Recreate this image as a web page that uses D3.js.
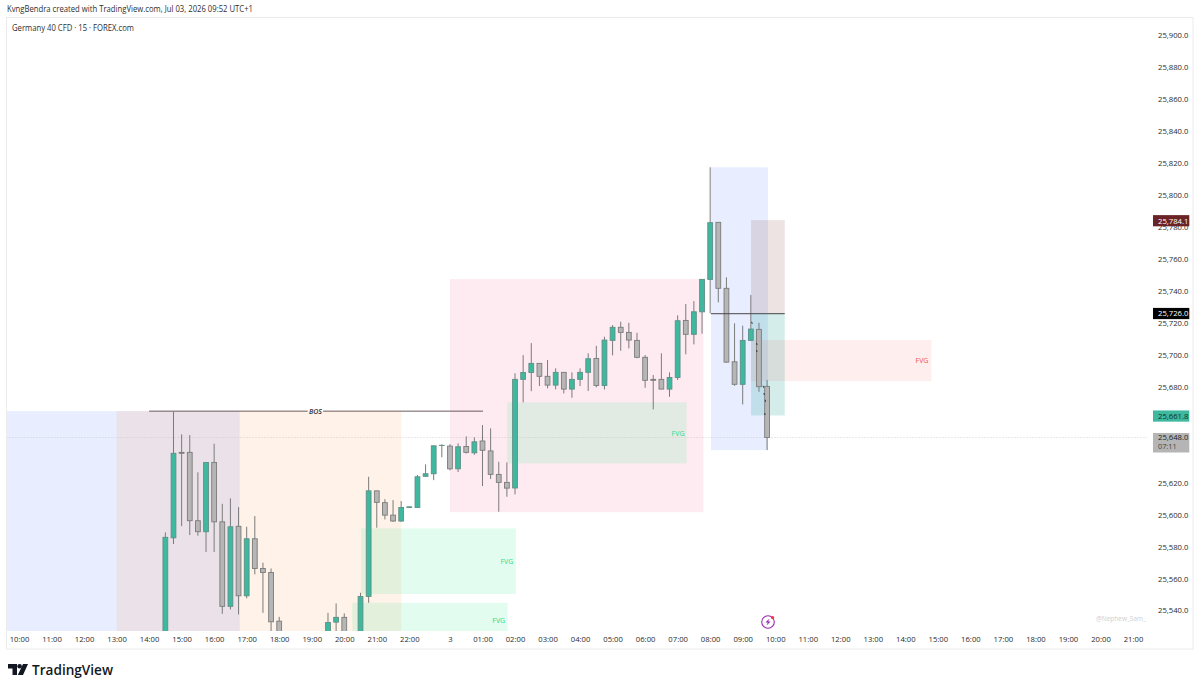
<!DOCTYPE html>
<html>
<head>
<meta charset="utf-8">
<style>
  html, body { margin: 0; padding: 0; background: #fff; }
  text { font-family: "Open Sans", Roboto, sans-serif; }
</style>
</head>
<body>
<svg id="chart" width="1200" height="689"></svg>
<script src="https://d3js.org/d3.v7.min.js"></script>
<script>
// bars are numbered from the 10:00 label, 4 per hour. 33-37 and 41 sit below the visible range
var barIndex = [18,19,20,21,22,23,24,25,26,27,28,29,30,31,32,38,39,40,42,43,44,45,46,47,48,49,50,51,52,53,54,55,56,57,58,59,60,61,62,63,64,65,66,67,68,69,70,71,72,73,74,75,76,77,78,79,80,81,82,83,84,85,86,87,88,89,90,91,92];
var opens = [25515,25585.2,25638.7,25638.7,25595.9,25589,25632.4,25595.2,25542.3,25592.4,25548.9,25584.6,25566,25563.5,25533,25515,25532.4,25535.4,25515,25548.5,25614.6,25607.2,25599.4,25595.7,25604.2,25604.2,25623.7,25625.3,25643,25642.6,25628.4,25642.4,25638.4,25645.8,25639.6,25624.9,25619.9,25616.4,25684.4,25688.7,25694.4,25686.3,25680.8,25688.8,25678.3,25684.4,25688.8,25697.5,25680.6,25708.8,25717,25713.8,25708.8,25698.2,25684.4,25684.4,25678.3,25685.6,25721.3,25712.6,25726.7,25747,25782.7,25741.4,25695.4,25681.3,25708.8,25715.7,25680];
var highs = [25588.6,25664.1,25650,25649.5,25626.2,25632.4,25644.1,25606.5,25609.9,25604.4,25592.1,25598.8,25569.6,25566,25535.7,25538.2,25544.1,25537.9,25550.8,25623.4,25614.6,25609.4,25608.8,25608.2,25604.6,25624.5,25631.2,25642.8,25643.7,25643.9,25644.3,25648.7,25648.1,25655.8,25653.7,25632.8,25632.4,25688.2,25699.6,25707.1,25694.4,25696.5,25691.3,25688.8,25688.8,25691.3,25700.7,25705.4,25711.1,25718.4,25720.5,25719.8,25713.6,25699.6,25687.1,25700.7,25688.8,25724.5,25731.6,25733.4,25747,25817.2,25782.7,25748.3,25719.5,25718,25737.2,25719.8,25684];
var lows = [25510,25581.3,25592.5,25586.9,25586.5,25576.3,25576.3,25537.6,25540.4,25537.2,25547.3,25562.3,25538.2,25520,25510,25510,25520,25510,25510,25544.5,25591.5,25596.7,25595.2,25595.2,25604.2,25604.2,25623.4,25621.3,25635.6,25627.4,25626.4,25638,25637.2,25617.6,25622,25601.5,25610.9,25612.4,25670,25677,25680.2,25678.8,25678.1,25675.6,25672.9,25680.2,25677.1,25679.4,25678.1,25699.4,25702.3,25703.8,25697.6,25679.1,25665.6,25678.3,25673.5,25684,25700.1,25706.3,25713,25725.7,25732.6,25694.8,25680.4,25668.7,25708.8,25676.6,25640.1];
var closes = [25585.5,25638.1,25638.1,25595.9,25589,25632.4,25595.2,25542.3,25592.1,25548.9,25584.6,25566,25563.5,25532.6,25515,25532.2,25535.4,25515,25548.5,25614.6,25607.4,25599.4,25595.7,25604.2,25604.6,25623.4,25625.3,25642.8,25643.1,25628.4,25642.2,25638.7,25645.3,25640,25624.9,25619.9,25616.3,25684.4,25688.7,25694.4,25686.3,25680.8,25688.8,25678.3,25684.4,25688.8,25697.3,25680.6,25709,25717,25713.8,25709,25698.2,25683.8,25683.8,25678.3,25685.6,25721.1,25712.6,25726.7,25747,25782.5,25741.4,25695.2,25681.3,25708.8,25715.9,25679.8,25648];

var priceTicks = [25900,25880,25860,25840,25820,25800,25780,25760,25740,25720,25700,25680,25620,25600,25580,25560,25540];
var timeTicks = [0,4,8,12,16,20,24,28,32,36,40,44,48,53,57,61,65,69,73,77,81,85,89,93,97,101,105,109,113,117,121,125,129,133,137];
var timeLabels = ["10:00","11:00","12:00","13:00","14:00","15:00","16:00","17:00","18:00","19:00","20:00","21:00","22:00","3","01:00","02:00","03:00","04:00","05:00","06:00","07:00","08:00","09:00","10:00","11:00","12:00","13:00","14:00","15:00","16:00","17:00","18:00","19:00","20:00","21:00"];

// drawn boxes: bar start, bar end, top price, bottom price
var boxStart  = [-1.54, 12, 53, 42.06, 40.99, 60.05, 85.1, 90.03, 90.03, 90];
var boxEnd    = [27.15, 47, 84.15, 61.1, 60.1, 82.1, 92.1, 94.17, 94.17, 112.2];
var boxTop    = [25664.5,25664.5,25747.2,25591.1,25544.5,25670,25817.2,25784.1,25726,25709];
var boxBottom = [25510,25510,25601.3,25550,25510,25631.8,25640.1,25726,25661.8,25683.3];
var boxFill   = ["#2962ff","#ff6d00","#e91e63","#00e676","#00e676","#00e676","#2962ff","#7a3a30","#26a69a","#f44336"];
var boxAlpha  = [0.11,0.09,0.09,0.11,0.11,0.11,0.11,0.14,0.2,0.09];

var fvgBar = [81.05,60,59,111.05];
var fvgPrice = [25650.8,25570.6,25533.7,25696.5];
var fvgColor = ["#2bdc8c","#2bdc8c","#2bdc8c","#ef5350"];

var markBar = [90.1,90.7,90.7,91.5,91.6,91.75,91.7];
var markPrice = [25719.8,25706.5,25702.1,25679.8,25675.2,25671,25662.7];

var lastPrice = 25648;
var bosPrice = 25664.5;
var entryPrice = 25726;

var svg = d3.select("#chart");
var x = d3.scaleLinear().domain([0,137]).range([19,1133]);
var y = d3.scaleLinear().domain([25900,25540]).range([35,610]);

// frame
svg.append("rect").attr("x",6.5).attr("y",17.5).attr("width",1186.5).attr("height",631.5)
  .attr("fill","#fff").attr("stroke","#ececec").attr("stroke-width",1);

svg.append("clipPath").attr("id","plot").append("rect")
  .attr("x",7).attr("y",18).attr("width",1140).attr("height",613);
var plot = svg.append("g").attr("clip-path","url(#plot)");

plot.selectAll(".box").data(boxStart).join("rect").attr("class","box")
  .attr("x",function(d){ return x(d); })
  .attr("width",function(d,i){ return x(boxEnd[i])-x(d); })
  .attr("y",function(d,i){ return y(boxTop[i]); })
  .attr("height",function(d,i){ return y(boxBottom[i])-y(boxTop[i]); })
  .attr("fill",function(d,i){ return boxFill[i]; })
  .attr("fill-opacity",function(d,i){ return boxAlpha[i]; });

// last price line
plot.append("line").attr("x1",x(-1.54)).attr("x2",1147).attr("y1",y(lastPrice)).attr("y2",y(lastPrice))
  .attr("stroke","#c9c4c4").attr("stroke-width",0.8).attr("stroke-dasharray","1 2");

// wicks and bodies
plot.selectAll(".wick").data(barIndex).join("line").attr("class","wick")
  .attr("x1",function(d){ return x(d); }).attr("x2",function(d){ return x(d); })
  .attr("y1",function(d,i){ return y(highs[i]); }).attr("y2",function(d,i){ return y(lows[i]); })
  .attr("stroke","#7b7b7b").attr("stroke-width",1);

plot.selectAll(".body").data(barIndex).join("rect").attr("class","body")
  .attr("x",function(d){ return x(d)-2.4; }).attr("width",4.8)
  .attr("y",function(d,i){ return y(Math.max(opens[i],closes[i])); })
  .attr("height",function(d,i){ return Math.abs(y(opens[i])-y(closes[i])); })
  .attr("fill",function(d,i){ return closes[i]>opens[i] ? "#3fb8a0" : "#b7b6b6"; })
  .attr("stroke",function(d,i){ return closes[i]>opens[i] ? "#5f8f86" : "#7b7b7b"; })
  .attr("stroke-width",0.9);

// BOS line with a gap for its label
plot.append("line").attr("x1",x(16)).attr("x2",x(35.5)).attr("y1",y(bosPrice)).attr("y2",y(bosPrice))
  .attr("stroke","#5a4a4c").attr("stroke-width",0.9);
plot.append("line").attr("x1",x(37.4)).attr("x2",x(57.07)).attr("y1",y(bosPrice)).attr("y2",y(bosPrice))
  .attr("stroke","#5a4a4c").attr("stroke-width",0.9);
plot.append("text").attr("x",x(36.45)).attr("y",y(bosPrice)+2.6).attr("text-anchor","middle")
  .attr("font-size",7).attr("font-style","italic").attr("font-weight",600).attr("fill","#333").text("BOS");

// entry line of the position box
plot.append("line").attr("x1",x(85.1)).attr("x2",x(94.17)).attr("y1",y(entryPrice)+0.8).attr("y2",y(entryPrice)+0.8)
  .attr("stroke","#4a4345").attr("stroke-width",1);

// little marks along the last bars
plot.selectAll(".mark").data(markBar).join("line").attr("class","mark")
  .attr("x1",function(d){ return x(d); }).attr("x2",function(d){ return x(d)+0.6; })
  .attr("y1",function(d,i){ return y(markPrice[i])-1; }).attr("y2",function(d,i){ return y(markPrice[i])+1; })
  .attr("stroke","#333").attr("stroke-width",1);

plot.selectAll(".fvg").data(fvgBar).join("text").attr("class","fvg")
  .attr("x",function(d){ return x(d); })
  .attr("y",function(d,i){ return y(fvgPrice[i])+2.5; })
  .attr("text-anchor","middle").attr("font-size",7)
  .attr("fill",function(d,i){ return fvgColor[i]; }).text("FVG");

// axes
var timeAxis = d3.axisBottom(x).tickValues(timeTicks).tickSize(0)
  .tickFormat(function(d,i){ return timeLabels[i]; });
var tg = svg.append("g").attr("transform","translate(0,631)").call(timeAxis);
tg.select(".domain").remove();
tg.selectAll("text").attr("y",6).attr("font-size",7.7).attr("font-family",'"Open Sans", Roboto, sans-serif').attr("fill","#2a2a2a");

var priceAxis = d3.axisRight(y).tickValues(priceTicks).tickSize(0)
  .tickFormat(function(d){ return d3.format(",.1f")(d); });
var pg = svg.append("g").attr("transform","translate(1158,0.5)").call(priceAxis);
pg.select(".domain").remove();
pg.selectAll("text").attr("x",0).attr("font-size",7.7).attr("font-family",'"Open Sans", Roboto, sans-serif').attr("fill","#2a2a2a");

// price tags
var tagPrice = [25784.1,25726,25661.8];
var tagFill = ["#6b2326","#000000","#3fb8a0"];
var tagText = ["#ffffff","#ffffff","#10302a"];
svg.selectAll(".tag").data(tagPrice).join("rect").attr("class","tag")
  .attr("x",1153).attr("width",36.3)
  .attr("y",function(d){ return y(d)+0.6-5.6; }).attr("height",11.2)
  .attr("fill",function(d,i){ return tagFill[i]; });
svg.selectAll(".tagt").data(tagPrice).join("text").attr("class","tagt")
  .attr("x",1158).attr("y",function(d){ return y(d)+3.4; })
  .attr("font-size",7.7).attr("fill",function(d,i){ return tagText[i]; })
  .text(function(d){ return d3.format(",.1f")(d); });

svg.append("rect").attr("x",1153).attr("y",y(lastPrice)-4.5).attr("width",36.3).attr("height",19.5).attr("fill","#b5b5b5");
svg.append("text").attr("x",1158).attr("y",y(lastPrice)+2.8).attr("font-size",7.7).attr("fill","#222").text(d3.format(",.1f")(lastPrice));
svg.append("text").attr("x",1158).attr("y",y(lastPrice)+11.5).attr("font-size",7.3).attr("fill","#444").text("07:11");

// header text
svg.append("text").attr("x",7).attr("y",12).attr("font-size",8.4).attr("fill","#2e2e2e")
  .attr("textLength",246).attr("lengthAdjust","spacingAndGlyphs")
  .text("KvngBendra created with TradingView.com, Jul 03, 2026 09:52 UTC+1");
svg.append("text").attr("x",12).attr("y",30.5).attr("font-size",8.4).attr("fill","#2e2e2e")
  .attr("textLength",122).attr("lengthAdjust","spacingAndGlyphs")
  .text("Germany 40 CFD · 15 · FOREX.com");

svg.append("text").attr("x",1096).attr("y",621).attr("font-size",6.5).attr("fill","#cfcfcf").text("@Nephew_Sam_");

// purple lightning badge
var badge = svg.append("g").attr("transform","translate(768,622)");
badge.append("circle").attr("r",6.3).attr("fill","#fff").attr("stroke","#9c27b0").attr("stroke-width",1.1);
badge.append("path").attr("d","M1.5,-3.5 L-2.6,0.6 L-0.2,0.6 L-1.5,3.5 L2.6,-0.6 L0.2,-0.6 Z").attr("fill","#9c27b0");
badge.append("circle").attr("cx",4.6).attr("cy",-4.4).attr("r",1.6).attr("fill","#f23645");

// logo
var logo = svg.append("g").attr("transform","translate(8,664)").attr("fill","#131722");
logo.append("path").attr("d","M0,0 H9 V11 H4.5 V4.5 H0 Z");
logo.append("circle").attr("cx",11.6).attr("cy",2.3).attr("r",2.3);
logo.append("path").attr("d","M15,0 H20 L15,11 H9.8 Z");
svg.append("text").attr("x",32).attr("y",674.5).attr("font-size",13.6).attr("font-weight",600).attr("fill","#131722").text("TradingView");
</script>
</body>
</html>
